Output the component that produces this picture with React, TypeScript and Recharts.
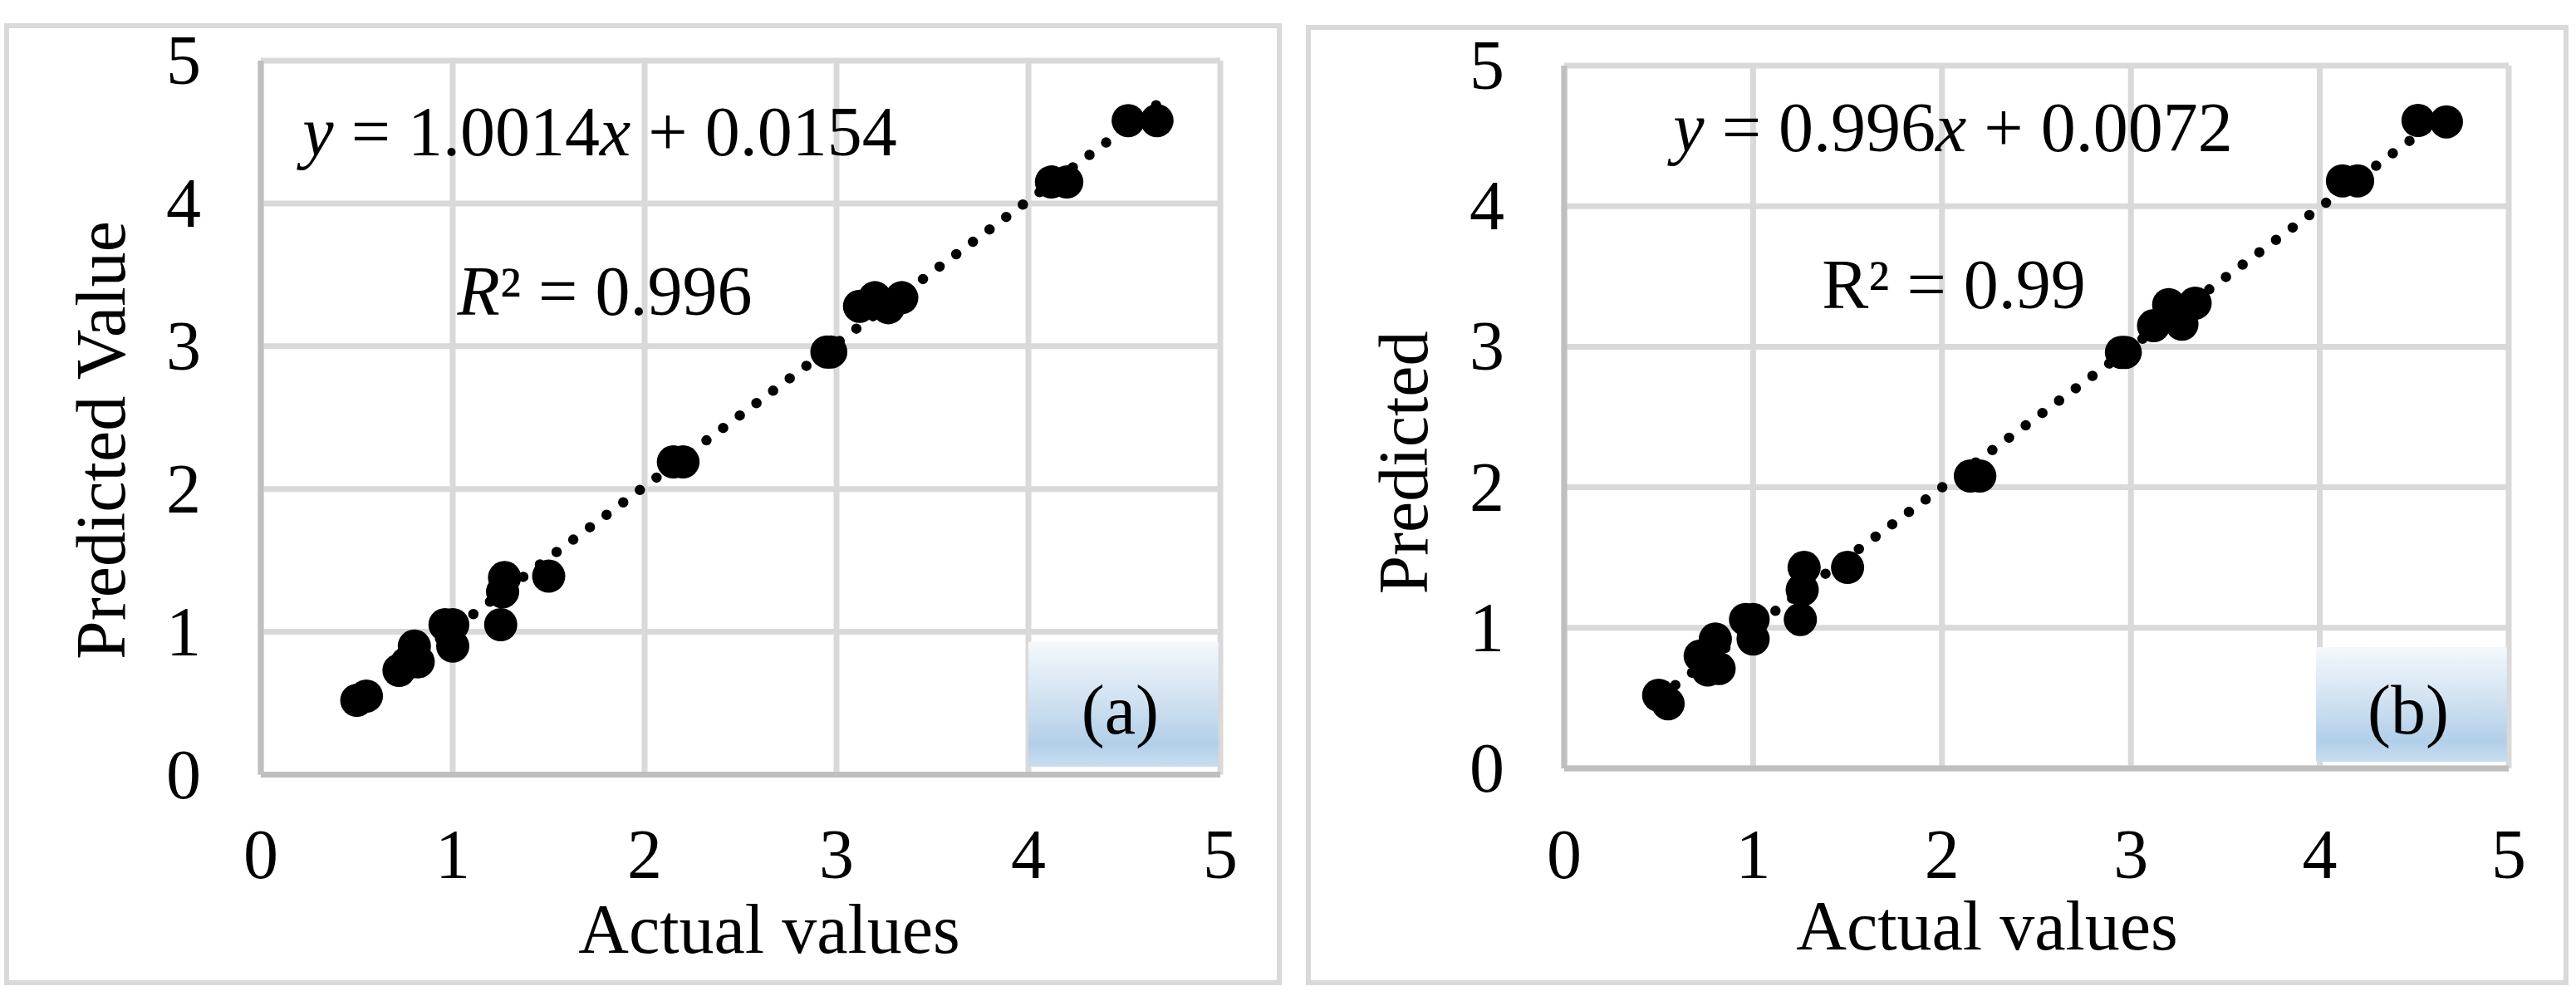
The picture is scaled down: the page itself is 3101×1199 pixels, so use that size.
import React from 'react';
import { ScatterChart, Scatter, XAxis, YAxis, CartesianGrid, ReferenceLine, ReferenceArea } from 'recharts';

// ---- data ----
const axisTicks = [0, 1, 2, 3, 4, 5];
const actualValues = [0.50, 0.55, 0.72, 0.76, 0.80, 0.82, 0.96, 1.00, 1.00, 1.25, 1.27, 1.26, 1.50, 2.15, 2.20, 2.95, 2.97, 3.12, 3.20, 3.27, 3.34, 4.12, 4.20, 4.52, 4.67];
const predictedA = [0.52, 0.55, 0.73, 0.78, 0.90, 0.79, 1.05, 1.05, 0.90, 1.05, 1.38, 1.28, 1.39, 2.19, 2.19, 2.96, 2.96, 3.28, 3.34, 3.27, 3.34, 4.15, 4.15, 4.58, 4.58];
const predictedB = [0.52, 0.46, 0.80, 0.70, 0.92, 0.71, 1.06, 1.06, 0.92, 1.06, 1.43, 1.27, 1.43, 2.08, 2.08, 2.96, 2.96, 3.15, 3.30, 3.16, 3.31, 4.18, 4.18, 4.61, 4.60];
const trendA = { slope: 1.0014, intercept: 0.0154 };
const trendB = { slope: 0.996, intercept: 0.0072 };
const panelLabels = ['(a)', '(b)'];
const yTitles = ['Predicted Value', 'Predicted'];
const xTitle = 'Actual values';

const FONT = "'Times New Roman', 'Liberation Serif', Times, serif";
const FS = 84;

const makeData = (ys: number[]) => actualValues.map((x, i) => ({ x, y: ys[i] }));

const Dot = (p: any) => <circle cx={p.cx} cy={p.cy} r={20} fill="#000" />;

function Panel(props: any) {
  const { left, width, margin, data, trend, box, label } = props;
  const xs = data.map((d: any) => d.x);
  const xMin = Math.min(...xs);
  const xMax = Math.max(...xs);
  return (
    <div style={{ position: 'absolute', left, top: 0 }}>
      <ScatterChart width={width} height={1199} margin={margin}>
        <CartesianGrid stroke="#d9d9d9" strokeWidth={7} />
        <XAxis
          type="number"
          dataKey="x"
          domain={[0, 5]}
          ticks={axisTicks}
          height={100}
          tickSize={0}
          tickMargin={0}
          tickLine={false}
          axisLine={{ stroke: '#bfbfbf', strokeWidth: 7 }}
          tick={(t: any) => (
            <text x={t.x} y={1057} textAnchor="middle" fontFamily={FONT} fontSize={FS} fill="#000">
              {t.payload.value}
            </text>
          )}
        />
        <YAxis
          type="number"
          dataKey="y"
          domain={[0, 5]}
          ticks={axisTicks}
          width={100}
          tickSize={0}
          tickMargin={0}
          tickLine={false}
          axisLine={{ stroke: '#bfbfbf', strokeWidth: 7 }}
          tick={(t: any) => (
            <text x={t.x - 93} y={t.y + 28} textAnchor="middle" fontFamily={FONT} fontSize={FS} fill="#000">
              {t.payload.value}
            </text>
          )}
        />
        <ReferenceArea
          x1={box[0]}
          x2={box[1]}
          y1={box[2]}
          y2={box[3]}
          fill="url(#boxGrad)"
          fillOpacity={1}
          stroke="none"
          ifOverflow="visible"
          label={(p: any) => {
            const vb = p.viewBox || {};
            return (
              <text x={vb.x + vb.width / 2 - 4} y={vb.y + vb.height / 2 + 35} textAnchor="middle" fontFamily={FONT} fontSize={FS} fill="#000">
                {label}
              </text>
            );
          }}
        />
        <ReferenceLine
          segment={[
            { x: xMin, y: trend.slope * xMin + trend.intercept },
            { x: xMax, y: trend.slope * xMax + trend.intercept },
          ]}
          stroke="#000"
          strokeWidth={12.5}
          strokeDasharray="0 25"
          strokeLinecap="round"
          ifOverflow="visible"
        />
        <Scatter data={data} fill="#000" shape={Dot} isAnimationActive={false} />
      </ScatterChart>
    </div>
  );
}

export default function App() {
  return (
    <div style={{ position: 'absolute', left: 0, top: 0, width: 3101, height: 1199, background: '#fff', overflow: 'hidden' }}>
      <svg width={0} height={0} style={{ position: 'absolute' }}>
        <defs>
          <linearGradient id="boxGrad" x1="0" y1="0" x2="0" y2="1">
            <stop offset="0" stopColor="#f4f8fc" />
            <stop offset="0.4" stopColor="#d6e5f3" />
            <stop offset="0.82" stopColor="#b2cfe9" />
            <stop offset="1" stopColor="#c9ddf0" />
          </linearGradient>
        </defs>
      </svg>
      <svg width={3101} height={1199} style={{ position: 'absolute', left: 0, top: 0 }}>
        <rect x={8} y={31} width={1532} height={1152} fill="none" stroke="#d9d9d9" strokeWidth={6} />
        <rect x={1575} y={33} width={1514} height={1150} fill="none" stroke="#d9d9d9" strokeWidth={6} />
      </svg>
      <Panel
        left={0}
        width={1560}
        margin={{ top: 73, right: 91, bottom: 166.5, left: 214 }}
        data={makeData(predictedA)}
        trend={trendA}
        box={[4.0, 4.99, 0.055, 0.93]}
        label={panelLabels[0]}
      />
      <Panel
        left={1560}
        width={1541}
        margin={{ top: 79, right: 81, bottom: 174, left: 223 }}
        data={makeData(predictedB)}
        trend={trendB}
        box={[3.98, 4.99, 0.047, 0.863]}
        label={panelLabels[1]}
      />
      <svg width={3101} height={1199} style={{ position: 'absolute', left: 0, top: 0, pointerEvents: 'none' }} fontFamily={FONT} fontSize={FS} fill="#000">
        <text x={722} y={187} textAnchor="middle">
          <tspan fontStyle="italic">y</tspan> = 1.0014<tspan fontStyle="italic">x</tspan> + 0.0154
        </text>
        <text x={728} y={379} textAnchor="middle">
          <tspan fontStyle="italic">R</tspan>² = 0.996
        </text>
        <text transform="translate(150,530) rotate(-90)" textAnchor="middle">{yTitles[0]}</text>
        <text x={926} y={1147} textAnchor="middle">{xTitle}</text>

        <text x={2351} y={182} textAnchor="middle">
          <tspan fontStyle="italic">y</tspan> = 0.996<tspan fontStyle="italic">x</tspan> + 0.0072
        </text>
        <text x={2352} y={371} textAnchor="middle">R² = 0.99</text>
        <text transform="translate(1718,557) rotate(-90)" textAnchor="middle">{yTitles[1]}</text>
        <text x={2392} y={1143} textAnchor="middle">{xTitle}</text>
      </svg>
    </div>
  );
}
